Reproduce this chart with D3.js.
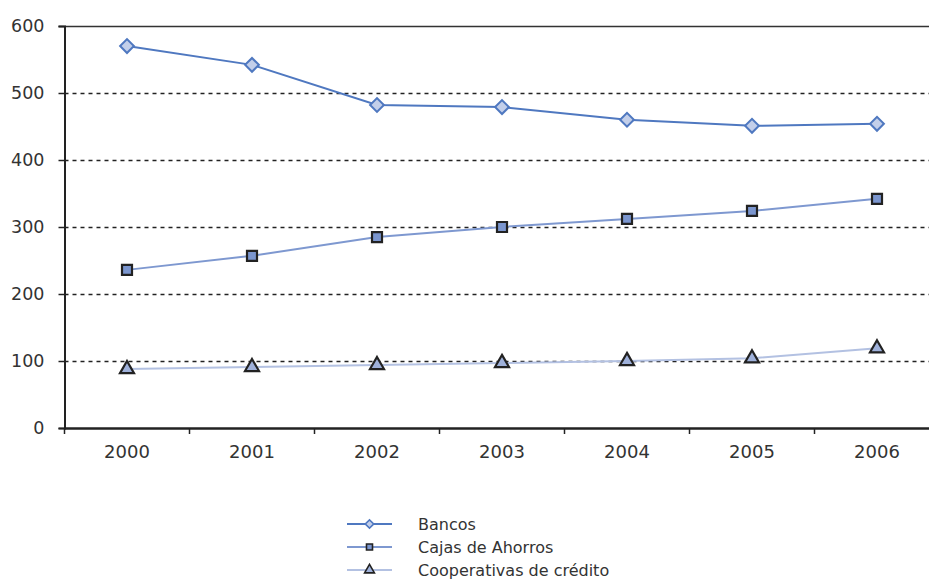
<!DOCTYPE html>
<html><head><meta charset="utf-8">
<script src="https://cdn.jsdelivr.net/npm/d3@7/dist/d3.min.js"></script>
<style>body{margin:0;background:#fff;} svg{display:block;} text{font-family:"DejaVu Sans",sans-serif;fill:#333;}</style>
</head><body>
<svg id="c" width="929" height="579"></svg>
<script>
const years = ["2000","2001","2002","2003","2004","2005","2006"];
const bancos = [570, 542, 482, 479, 460, 451, 454];
const cajas = [236, 257, 285, 300, 312, 324, 342];
const cooperativas = [88, 91, 94, 97, 100, 104, 119];
const yTicks = [0, 100, 200, 300, 400, 500, 600];
const seriesNames = ["Bancos", "Cajas de Ahorros", "Cooperativas de crédito"];

const svg = d3.select("#c");
const x0 = 64.5, yTop = 26, yBot = 428;
const x = d3.scaleBand().domain(years).range([x0, x0 + 7 * 125]);
const y = d3.scaleLinear().domain([0, 600]).range([yBot, yTop]);

// gridlines
svg.append("g").selectAll("line").data(yTicks.filter(d => d > 0 && d < 600)).join("line")
  .attr("x1", x0).attr("x2", 929).attr("y1", d => Math.round(y(d)) + 0.5).attr("y2", d => Math.round(y(d)) + 0.5)
  .attr("stroke", "#222").attr("stroke-width", 1.4).attr("stroke-dasharray", "4,4");
// top line
svg.append("line").attr("x1", x0).attr("x2", 929).attr("y1", y(600) + 0.5).attr("y2", y(600) + 0.5)
  .attr("stroke", "#333").attr("stroke-width", 1.5);

// y axis
const yAxis = d3.axisLeft(y).tickValues(yTicks).tickSize(6).tickPadding(14);
const gy = svg.append("g").attr("transform", `translate(${x0},0)`).call(yAxis);
gy.select(".domain").attr("stroke", "#222").attr("stroke-width", 2);
gy.selectAll(".tick line").attr("stroke", "#222").attr("stroke-width", 1.5);
gy.selectAll(".tick text").style("font-size", "17.5px").style("font-family", "DejaVu Sans").attr("fill", "#333");

// x axis
const xAxis = d3.axisBottom(x).tickSize(0).tickPadding(17);
const gx = svg.append("g").attr("transform", `translate(0,${yBot})`).call(xAxis);
gx.select(".domain").attr("stroke", "#222").attr("stroke-width", 2.5);
gx.selectAll(".tick text").style("font-size", "18px").style("font-family", "DejaVu Sans").attr("fill", "#333");
// category boundary ticks
svg.append("g").selectAll("line").data(years.concat(["end"])).join("line")
  .attr("x1", (d, i) => x0 + i * x.step()).attr("x2", (d, i) => x0 + i * x.step())
  .attr("y1", yBot).attr("y2", yBot + 6).attr("stroke", "#222").attr("stroke-width", 1.5);

const cx = d => x(d) + x.bandwidth() / 2;
const line = d3.line().x(d => cx(d[0])).y(d => y(d[1]));

const defs = [
  {name: seriesNames[0], data: bancos, line: "#4f78c0", shape: d3.symbolSquare, rot: 45, size: 95, fill: "#c3cfea", stroke: "#4f78c0", sw: 2, legSize: 36},
  {name: seriesNames[1], data: cajas, line: "#7e98d0", shape: d3.symbolSquare, rot: 0, size: 100, fill: "#7b96cf", stroke: "#222", sw: 2.2, legSize: 36},
  {name: seriesNames[2], data: cooperativas, line: "#b3c1e2", shape: d3.symbolTriangle, rot: 0, size: 85, fill: "#9fb1da", stroke: "#222", sw: 2.2, legSize: 42}
];

defs.forEach(s => {
  const pts = years.map((yr, i) => [yr, s.data[i]]);
  svg.append("path").datum(pts).attr("d", line).attr("fill", "none").attr("stroke", s.line).attr("stroke-width", 2);
  svg.append("g").selectAll("path").data(pts).join("path")
    .attr("d", d3.symbol().type(s.shape).size(s.size))
    .attr("transform", d => `translate(${cx(d[0])},${y(d[1])}) rotate(${s.rot})`)
    .attr("fill", s.fill).attr("stroke", s.stroke).attr("stroke-width", s.sw);
});

// legend
const leg = svg.append("g");
defs.forEach((s, i) => {
  const ly = 524 + i * 23;
  leg.append("line").attr("x1", 347).attr("x2", 392).attr("y1", ly).attr("y2", ly).attr("stroke", s.line).attr("stroke-width", 2);
  leg.append("path").attr("d", d3.symbol().type(s.shape).size(s.legSize))
    .attr("transform", `translate(369.5,${ly}) rotate(${s.rot})`)
    .attr("fill", s.fill).attr("stroke", s.stroke).attr("stroke-width", 1.6);
  leg.append("text").attr("x", 418).attr("y", ly).attr("dy", "0.35em").style("font-size", "16px").text(s.name);
});
</script>
</body></html>
